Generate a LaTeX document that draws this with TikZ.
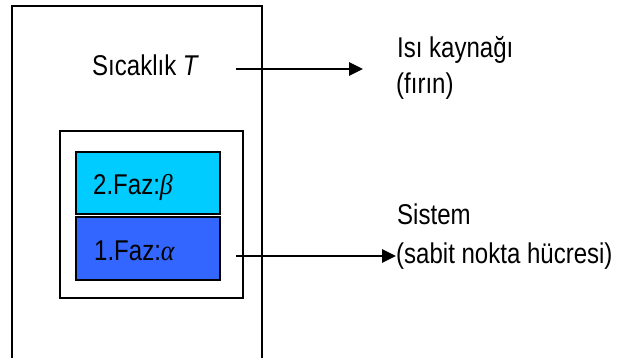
\documentclass[tikz,border=0pt]{standalone}
\usepackage{fontspec}
\setmainfont[FakeStretch=0.84]{Liberation Sans}
\newfontfamily\greekit[FakeStretch=0.9]{Liberation Serif}
\usetikzlibrary{arrows.meta}
\definecolor{fazbeta}{HTML}{00CCFF}
\definecolor{fazalpha}{HTML}{3366FF}
\begin{document}
\begin{tikzpicture}[x=1pt,y=-1pt,
  lbl/.style={inner sep=0pt, anchor=base west, font=\fontsize{28.6}{34}\selectfont},
  box/.style={draw=black, line width=1.3pt, inner sep=0pt},
  conn/.style={line width=2.6pt, -{Triangle[length=14pt,width=13pt]}}]
\useasboundingbox (0,0) rectangle (617,357);
\clip (0,0) rectangle (617,357);
% outer box (furnace), open at the bottom of the picture
\coordinate (ol) at (12,360);
\coordinate (ot) at (12,6);
\coordinate (ort) at (262,6);
\coordinate (orb) at (262,360);
\draw[line width=1.3pt] (ol) -- (ot) -- (ort) -- (orb);
% inner box (system)
\node[box, minimum width=183pt, minimum height=167pt] (inner) at (151.5,214.5) {};
\node[box, fill=fazbeta, minimum width=144pt, minimum height=62pt] (beta) at (148,183) {};
\node[box, fill=fazalpha, minimum width=144pt, minimum height=63pt] (alpha) at (148,248.5) {};
% labels
\node[lbl] (temp) at (92,75.7) {Sıcaklık \textit{T}};
\node[lbl] (tb) at (93,194) {2.Faz:{\greekit\itshape β}};
\node[lbl] (ta) at (94,260) {1.Faz:{\greekit\itshape α}};
\node[lbl] (src1) at (397,57) {Isı kaynağı};
\node[lbl] (src2) at (396,93) {(fırın)};
\node[lbl] (sys1) at (397,224.5) {Sistem};
\node[lbl] (sys2) at (396,263) {(sabit nokta hücresi)};
% connectors
\coordinate (a1s) at (236,69);
\coordinate (a1e) at (363,69);
\coordinate (a2s) at (236,256);
\draw[conn] (a1s) -- (a1e);
\draw[conn] (a2s) -- (sys2.west |- a2s);
\end{tikzpicture}
\end{document}
